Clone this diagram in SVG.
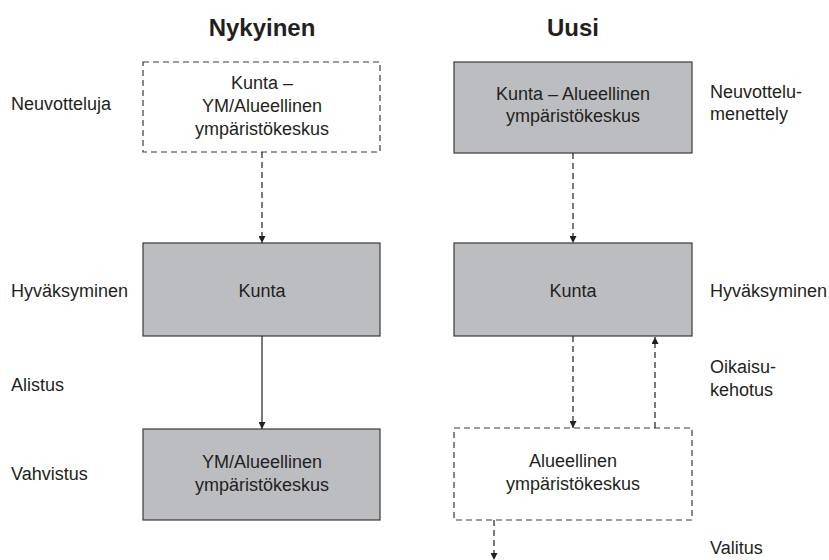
<svg xmlns="http://www.w3.org/2000/svg" width="829" height="560" viewBox="0 0 829 560">
<defs>
<style>
text{font-family:"Liberation Sans",Arial,sans-serif;font-size:18px;fill:#231f20}
.h{font-size:24px;font-weight:bold;text-anchor:middle}
.c{text-anchor:middle}
.solid{fill:#bcbdc0;stroke:#3a3a3a;stroke-width:1.2}
.dash{fill:#fff;stroke:#3a3a3a;stroke-width:1.2;stroke-dasharray:6 4}
.ln{stroke:#231f20;stroke-width:1.2;fill:none}
.dl{stroke:#231f20;stroke-width:1.2;fill:none;stroke-dasharray:6 4}
</style>
<marker id="ah" viewBox="0 0 10 10" refX="10" refY="5" markerWidth="7" markerHeight="7" markerUnits="userSpaceOnUse" orient="auto">
<path d="M0,0 L10,5 L0,10 z" fill="#231f20"/>
</marker>
</defs>
<text class="h" x="262" y="36">Nykyinen</text>
<text class="h" x="573" y="36">Uusi</text>

<g id="labels">
<text x="11" y="110">Neuvotteluja</text>
<text x="11" y="297">Hyväksyminen</text>
<text x="11" y="391">Alistus</text>
<text x="11" y="480">Vahvistus</text>
<text x="710" y="98">Neuvottelu-</text>
<text x="710" y="120">menettely</text>
<text x="710" y="297">Hyväksyminen</text>
<text x="710" y="373">Oikaisu-</text>
<text x="710" y="396">kehotus</text>
<text x="710" y="554">Valitus</text>
</g>

<g id="n1">
<rect class="dash" x="143" y="62" width="237" height="90"/>
<text class="c" x="262" y="89">Kunta –</text>
<text class="c" x="262" y="112">YM/Alueellinen</text>
<text class="c" x="262" y="135">ympäristökeskus</text>
</g>
<g id="n2">
<rect class="solid" x="143" y="243" width="237" height="93"/>
<text class="c" x="262" y="297">Kunta</text>
</g>
<g id="n3">
<rect class="solid" x="143" y="429" width="237" height="91"/>
<text class="c" x="262" y="468">YM/Alueellinen</text>
<text class="c" x="262" y="491">ympäristökeskus</text>
</g>
<g id="n4">
<rect class="solid" x="454" y="62" width="238" height="91"/>
<text class="c" x="573" y="100">Kunta – Alueellinen</text>
<text class="c" x="573" y="122">ympäristökeskus</text>
</g>
<g id="n5">
<rect class="solid" x="454" y="243" width="238" height="93"/>
<text class="c" x="573" y="297">Kunta</text>
</g>
<g id="n6">
<rect class="dash" x="454" y="428" width="238" height="92"/>
<text class="c" x="573" y="467">Alueellinen</text>
<text class="c" x="573" y="490">ympäristökeskus</text>
</g>

<g id="connectors">
<line class="dl" x1="262" y1="152" x2="262" y2="243" marker-end="url(#ah)"/>
<line class="ln" x1="262" y1="336" x2="262" y2="429" marker-end="url(#ah)"/>
<line class="dl" x1="573" y1="153" x2="573" y2="243" marker-end="url(#ah)"/>
<line class="dl" x1="573" y1="336" x2="573" y2="428" marker-end="url(#ah)"/>
<line class="dl" x1="655" y1="428" x2="655" y2="337" marker-end="url(#ah)"/>
<line class="dl" x1="494" y1="520" x2="494" y2="560" marker-end="url(#ah)"/>
</g>
</svg>
